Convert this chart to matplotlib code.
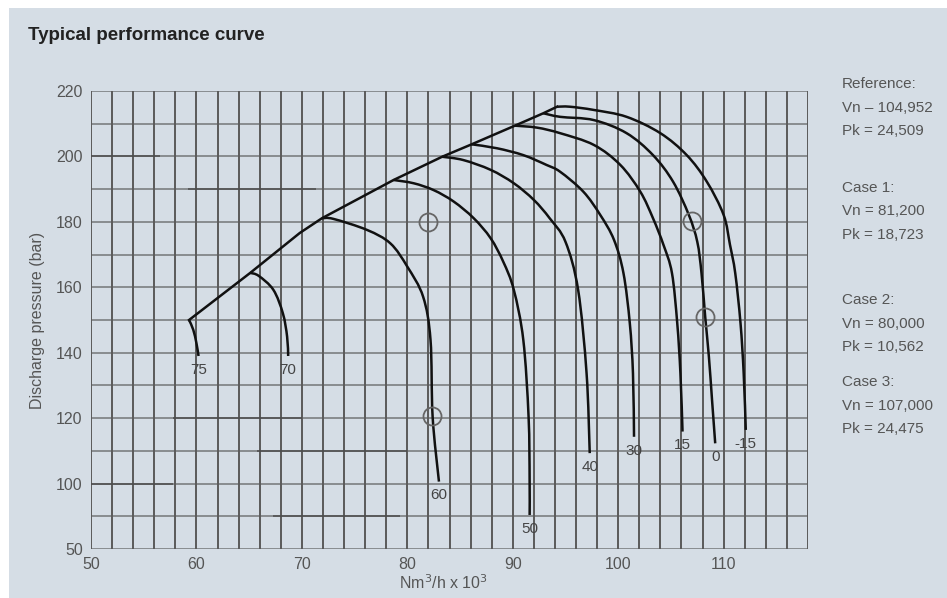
import numpy as np
import matplotlib
matplotlib.use("Agg")
import matplotlib.pyplot as plt
from matplotlib.patches import Rectangle, PathPatch
from matplotlib.path import Path

plt.rcParams['font.family'] = ['Liberation Sans', 'DejaVu Sans']

# ---------------- data ----------------
surge_x = [59.3, 65.1, 69.8, 71.9, 78.7, 83.3, 86.1, 90.2, 92.9, 94.2]
surge_y = [150.0, 164.4, 176.6, 181.1, 192.8, 199.9, 203.7, 209.4, 213.2, 215.2]

speed_labels = ["75", "70", "60", "50", "40", "30", "15", "0", "-15"]

c75_x = [59.3, 59.7, 60.0, 60.2]
c75_y = [150.0, 147.0, 142.9, 139.0]

c70_x = [65.1, 65.9, 67.3, 68.2, 68.6, 68.7]
c70_y = [164.4, 163.5, 159.2, 152.0, 144.9, 139.0]

c60_x = [71.9, 73.0, 76.2, 78.4, 80.0, 81.5, 82.2, 82.4, 83.0]
c60_y = [181.1, 180.9, 177.5, 173.4, 166.3, 157.1, 143.9, 120.4, 100.6]

c50_x = [78.7, 80.6, 82.5, 84.4, 86.3, 87.9, 89.1, 90.1, 91.0, 91.5, 91.6, 91.6]
c50_y = [192.8, 191.8, 189.7, 186.2, 181.1, 175.0, 167.8, 159.2, 143.9, 120.4, 100.0, 76.0]

c40_x = [83.3, 85.3, 87.9, 90.1, 92.0, 93.5, 95.0, 96.2, 97.0, 97.3]
c40_y = [199.9, 198.9, 195.9, 191.8, 186.7, 181.1, 173.9, 159.2, 133.7, 109.3]

c30_x = [86.1, 88.5, 91.0, 93.2, 94.5, 96.7, 98.3, 99.6, 100.5, 101.1, 101.4, 101.5]
c30_y = [203.7, 202.5, 200.4, 197.4, 195.3, 189.2, 182.1, 174.5, 164.3, 149.0, 133.7, 114.3]

c15_x = [90.2, 92.3, 94.5, 97.7, 100.2, 102.1, 103.3, 104.3, 105.1, 105.6, 105.9, 106.1]
c15_y = [209.4, 208.8, 207.1, 203.5, 197.4, 189.2, 181.1, 172.9, 164.3, 149.0, 133.7, 115.9]

c0_x = [92.9, 94.5, 97.7, 100.8, 103.3, 105.2, 106.7, 107.5, 107.9, 108.25, 108.6, 108.9, 109.2]
c0_y = [213.2, 212.1, 211.1, 207.1, 200.4, 192.3, 182.1, 173.9, 164.3, 151.0, 138.8, 125.5, 112.3]

cm15_x = [94.2, 95.4, 97.7, 100.8, 104.0, 106.5, 108.4, 110.0, 110.6, 111.1, 111.6, 111.9, 112.1]
cm15_y = [215.2, 215.2, 214.2, 212.1, 207.1, 200.4, 192.3, 182.1, 173.0, 164.3, 149.0, 133.7, 116.4]

case_x = [82.0, 82.3, 107.0, 108.25]
case_y = [180.0, 120.7, 180.3, 151.0]

x_ticks = [50, 60, 70, 80, 90, 100, 110]
y_ticks = [50, 100, 120, 140, 160, 180, 200, 220]
y_grid = [50, 75, 100, 110, 120, 130, 140, 150, 160, 170, 180, 190, 200, 210, 220]

# darker stretches of the hand-drawn horizontal rules: (pressure, x from, x to)
dark_rule_y = [200, 190, 100, 75, 120, 110]
dark_rule_x0 = [50, 59.2, 50, 67.3, 57.8, 65.7]
dark_rule_x1 = [56.5, 71.3, 57.8, 79.3, 70.0, 80.0]

info_text = [
    ["Reference:", "Vn \u2013 104,952", "Pk = 24,509"],
    ["Case 1:", "Vn = 81,200", "Pk = 18,723"],
    ["Case 2:", "Vn = 80,000", "Pk = 10,562"],
    ["Case 3:", "Vn = 107,000", "Pk = 24,475"],
]

# ---------------- figure ----------------
BG = "#d5dde5"
W, H = 947, 598
fig = plt.figure(figsize=(W / 100, H / 100), dpi=100)
fig.patch.set_facecolor("white")
fig.add_artist(Rectangle((9 / W, 0), 1, 1 - 8 / H, transform=fig.transFigure,
                         facecolor=BG, edgecolor="none", zorder=-10))

ax = fig.add_axes([91 / W, (H - 549) / H, (808 - 91) / W, (549 - 91) / H])
ax.set_facecolor(BG)


def fwd(p):
    p = np.asarray(p, dtype=float)
    return np.where(p >= 100, 2 + (p - 100) / 10.0, (p - 50) / 25.0)


def inv(v):
    v = np.asarray(v, dtype=float)
    return np.where(v >= 2, 100 + (v - 2) * 10.0, 50 + v * 25.0)


ax.set_yscale("function", functions=(fwd, inv))
ax.set_xlim(50, 118)
ax.set_ylim(50, 220)

gridc = "#5a5a5a"
for gx in np.arange(50, 119, 2):
    ax.axvline(gx, color=gridc, lw=1.4, zorder=1)
for gy in y_grid:
    ax.axhline(gy, color=gridc, lw=1.2, alpha=0.72, zorder=1)
for gy, x0, x1 in zip(dark_rule_y, dark_rule_x0, dark_rule_x1):
    ax.hlines(gy, x0, x1, color="#4a4a4a", lw=1.3, alpha=0.8, zorder=1.5)
for s in ax.spines.values():
    s.set_visible(False)

ax.set_xticks(x_ticks)
ax.set_xticklabels([str(v) for v in x_ticks])
ax.set_yticks(y_ticks)
ax.set_yticklabels([str(v) for v in y_ticks])
ax.minorticks_off()
ax.tick_params(length=0, labelsize=11.5, labelcolor="#555555", pad=6)

ax.set_xlabel("Nm$^3$/h x 10$^3$", fontsize=11.5, color="#555555", va="center")
ax.xaxis.set_label_coords((443 - 91) / (808 - 91), -(583 - 549) / (549 - 91))
ax.set_ylabel("Discharge pressure (bar)", fontsize=11.5, color="#555555", labelpad=8)


def smooth_path(xs, ys):
    """Catmull-Rom spline through the read points, as cubic Bezier segments."""
    P = np.column_stack([xs, ys]).astype(float)
    n = len(P)
    verts = [P[0]]
    codes = [Path.MOVETO]
    for i in range(n - 1):
        p0 = P[i - 1] if i > 0 else P[i]
        p1 = P[i]
        p2 = P[i + 1]
        p3 = P[i + 2] if i + 2 < n else P[i + 1]
        c1 = p1 + (p2 - p0) / 6.0
        c2 = p2 - (p3 - p1) / 6.0
        verts += [c1, c2, p2]
        codes += [Path.CURVE4] * 3
    return Path(np.array(verts), codes)


lc = "#111111"
lw = 1.8
ax.plot(surge_x, surge_y, color=lc, lw=lw, zorder=3)
curves = [(c75_x, c75_y), (c70_x, c70_y), (c60_x, c60_y), (c50_x, c50_y),
          (c40_x, c40_y), (c30_x, c30_y), (c15_x, c15_y), (c0_x, c0_y),
          (cm15_x, cm15_y)]
for (cx, cy), lab in zip(curves, speed_labels):
    ax.add_patch(PathPatch(smooth_path(cx, cy), facecolor="none", edgecolor=lc,
                           lw=lw, zorder=3, capstyle="butt"))
    ax.annotate(lab, xy=(cx[-1], cy[-1]), xytext=(0, -10),
                textcoords="offset points", ha="center", va="center",
                fontsize=11, color="#444444", zorder=4)

ax.plot(case_x, case_y, linestyle="none", marker="o", markersize=13,
        markerfacecolor="none", markeredgecolor="#666666", markeredgewidth=1.3,
        zorder=5)

# title
fig.text(28 / W, 1 - 35 / H, "Typical performance curve", fontsize=13.5,
         fontweight="bold", color="#222222", ha="left", va="center")

# side info
group_y = [84, 188, 300, 382]
for gy, lines in zip(group_y, info_text):
    for i, t in enumerate(lines):
        fig.text(842 / W, 1 - (gy + i * 23.5) / H, t, fontsize=11,
                 color="#555555", ha="left", va="center")

fig.savefig("out.png", dpi=100, facecolor=fig.get_facecolor())
